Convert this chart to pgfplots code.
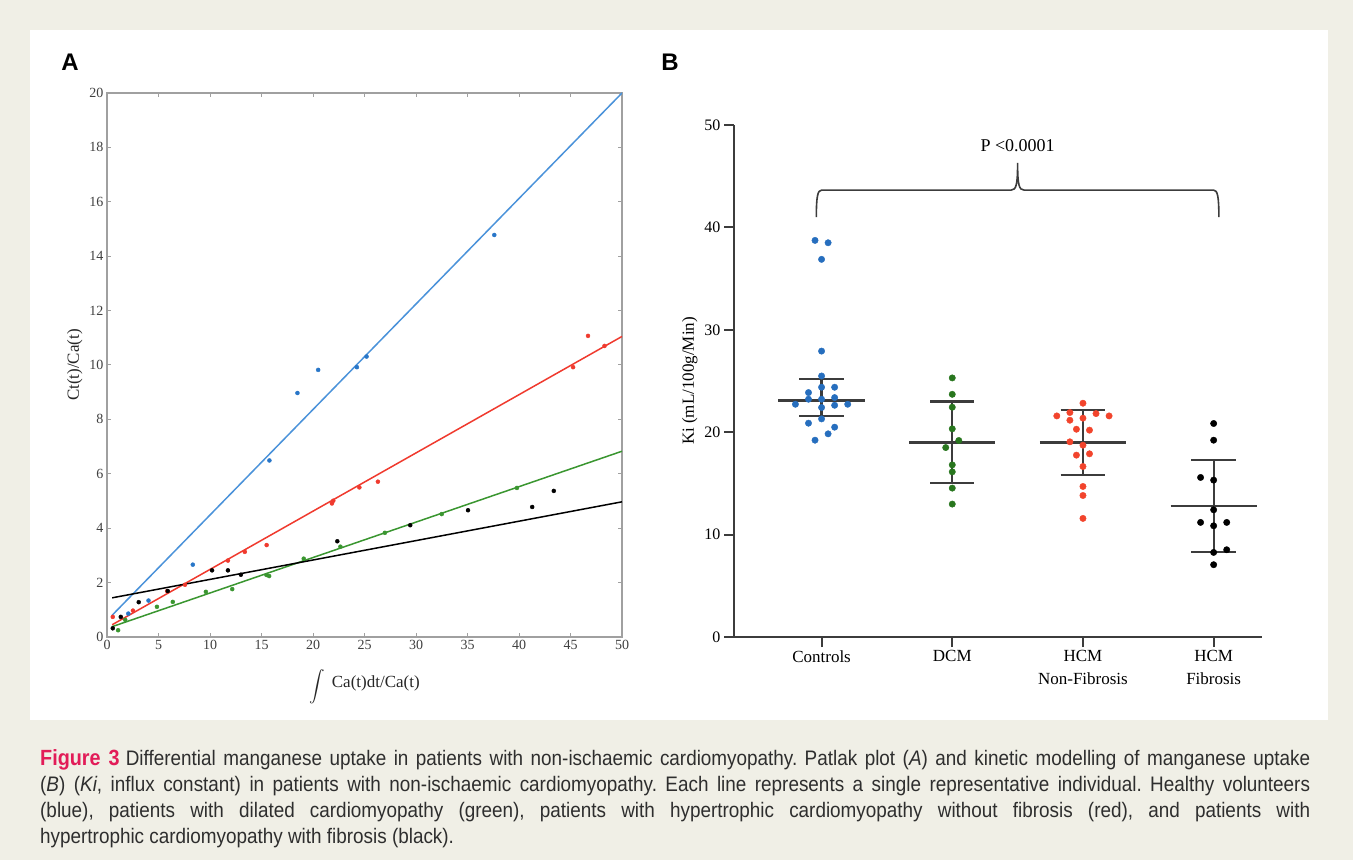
\documentclass[border=0pt]{standalone}
\usepackage{fontspec}
\setmainfont{Liberation Serif}
\newfontfamily\capfont[FakeStretch=0.9]{Liberation Sans}
\newfontfamily\labfont{Liberation Sans}
\usepackage{graphicx}
\usepackage{pgfplots}
\pgfplotsset{compat=1.18}

\definecolor{bgbeige}{RGB}{240,239,230}
\definecolor{figred}{RGB}{226,28,88}
\definecolor{lineblue}{RGB}{74,146,218}
\definecolor{dotblue}{RGB}{40,118,200}
\definecolor{linered}{RGB}{240,58,46}
\definecolor{linegreen}{RGB}{58,150,48}
\definecolor{kblue}{RGB}{38,110,190}
\definecolor{kgreen}{RGB}{40,118,30}
\definecolor{kred}{RGB}{242,68,44}
\definecolor{axgray}{RGB}{160,160,160}
\definecolor{axdark}{RGB}{60,60,60}

% panel A, Patlak plot
\pgfplotstableread{
x y
2.07 0.86
4.03 1.34
8.33 2.66
15.77 6.49
18.49 8.97
20.5 9.82
24.26 9.92
25.2 10.31
37.6 14.78
}\patblue
\pgfplotstableread{
x y
0.56 0.74
2.52 0.97
5.84 1.69
7.57 1.92
11.74 2.81
13.38 3.13
15.5 3.38
21.84 4.91
21.97 5.01
24.5 5.5
26.3 5.71
45.25 9.92
46.7 11.07
48.3 10.7
}\patred
\pgfplotstableread{
x y
1.08 0.25
1.77 0.63
4.85 1.11
6.39 1.29
9.6 1.66
12.16 1.76
15.48 2.28
15.74 2.24
19.1 2.88
22.66 3.32
26.98 3.83
32.5 4.52
39.8 5.48
}\patgreen
\pgfplotstableread{
x y
0.56 0.32
1.34 0.74
3.08 1.28
5.9 1.69
10.2 2.45
11.74 2.45
13.0 2.29
22.36 3.52
29.44 4.11
35.05 4.66
41.28 4.78
43.38 5.37
}\patblack

% panel B, Ki per group (x = group position + jitter)
\pgfplotstableread{
x y
0.95 38.73
1.05 38.5
1 36.88
1 27.92
1 25.49
1 24.39
0.9 23.87
1.1 24.39
0.9 23.22
1 23.22
1.1 23.38
0.8 22.73
1.2 22.73
1 22.41
1.1 22.63
1 21.3
0.9 20.88
1.1 20.49
1.05 19.84
0.95 19.22
}\kicontrols
\pgfplotstableread{
x y
2 25.3
2 23.7
2 22.44
2 20.33
2.05 19.19
1.95 18.5
2 16.81
2 16.13
2 14.54
2 12.98
}\kidcm
\pgfplotstableread{
x y
3 22.83
2.8 21.59
2.9 21.92
3.1 21.82
3.2 21.59
2.9 21.17
3 21.37
2.95 20.29
3.05 20.2
2.9 19.06
3 18.73
2.95 17.76
3.05 17.89
3 16.65
3 14.7
3 13.82
3 11.58
}\kinonfib
\pgfplotstableread{
x y
4 20.85
4 19.22
3.9 15.58
4 15.32
4 12.42
3.9 11.19
4 10.86
4.1 11.19
4 8.26
4.1 8.52
4 7.06
}\kifib

\begin{document}
\begin{tikzpicture}[x=1pt,y=1pt]
\path[use as bounding box, fill=bgbeige] (0,0) rectangle (1353,860);
\fill[white] (30,140) rectangle (1328,830);
\node[font=\labfont\bfseries\fontsize{24}{24}\selectfont] at (70,798) {A};
\node[font=\labfont\bfseries\fontsize{24}{24}\selectfont] at (670,798) {B};

\begin{axis}[
  at={(107pt,223pt)}, anchor=south west,
  scale only axis, width=515pt, height=544pt,
  xmin=0, xmax=50, ymin=0, ymax=20,
  xtick={0,5,...,50}, ytick={0,2,...,20},
  tick align=inside, major tick length=4pt,
  axis line style={draw=axgray, line width=1.3pt},
  tick style={draw=axgray, line width=1pt},
  ticklabel style={font=\fontsize{14}{14}\selectfont, text=black!75},
  /pgf/number format/assume math mode=true,
  xlabel={\raisebox{-0.35em}{\scalebox{1.55}{$\displaystyle\int$}}\, Ca(t)dt/Ca(t)},
  xlabel style={yshift=-13pt},
  ylabel={Ct(t)/Ca(t)},
  label style={font=\fontsize{17}{17}\selectfont, text=black!85},
]
\addplot[lineblue, line width=1.5pt, mark=none] coordinates {(0.5,0.8) (50,20)};
\addplot[linered, line width=1.5pt, mark=none] coordinates {(0.5,0.45) (50,11.05)};
\addplot[linegreen, line width=1.5pt, mark=none] coordinates {(0.5,0.38) (50,6.83)};
\addplot[black, line width=1.5pt, mark=none] coordinates {(0.5,1.44) (50,4.97)};
\addplot[only marks, mark=*, mark size=2pt, dotblue] table {\patblue};
\addplot[only marks, mark=*, mark size=2pt, linered] table {\patred};
\addplot[only marks, mark=*, mark size=2pt, linegreen] table {\patgreen};
\addplot[only marks, mark=*, mark size=2pt, black] table {\patblack};
\end{axis}

\begin{axis}[
  at={(734pt,223pt)}, anchor=south west,
  scale only axis, width=528pt, height=512pt,
  xmin=0.33, xmax=4.37, ymin=0, ymax=50,
  axis x line*=bottom, axis y line*=left,
  xtick={1,2,3,4},
  xticklabels={Controls,DCM,{HCM\\Non-Fibrosis},{HCM\\Fibrosis}},
  ytick={0,10,...,50},
  tick align=outside, major tick length=10pt,
  axis line style={draw=axdark, line width=2pt},
  tick style={draw=axdark, line width=2pt},
  xticklabel style={align=center, font=\fontsize{17}{23}\selectfont},
  yticklabel style={font=\fontsize{16}{16}\selectfont},
  /pgf/number format/assume math mode=true,
  ylabel={Ki (mL/100g/Min)},
  label style={font=\fontsize{17}{17}\selectfont},
  clip=false,
  bar/.style={axdark, line width=2.2pt, mark=none},
]
\addplot[only marks, mark=*, mark size=3.2pt, kblue] table {\kicontrols};
\addplot[only marks, mark=*, mark size=3.2pt, kgreen] table {\kidcm};
\addplot[only marks, mark=*, mark size=3.2pt, kred] table {\kinonfib};
\addplot[only marks, mark=*, mark size=3.2pt, black] table {\kifib};
% mean and spread
\addplot[bar] coordinates {(0.67,23.1) (1.33,23.1)};
\addplot[bar] coordinates {(0.83,25.2) (1.17,25.2)};
\addplot[bar] coordinates {(0.83,21.6) (1.17,21.6)};
\addplot[bar] coordinates {(1,21.6) (1,25.2)};
\addplot[bar] coordinates {(1.67,19.0) (2.33,19.0)};
\addplot[bar] coordinates {(1.83,23.0) (2.17,23.0)};
\addplot[bar] coordinates {(1.83,15.0) (2.17,15.0)};
\addplot[bar] coordinates {(2,15.0) (2,23.0)};
\addplot[bar] coordinates {(2.67,19.0) (3.33,19.0)};
\addplot[bar] coordinates {(2.83,22.2) (3.17,22.2)};
\addplot[bar] coordinates {(2.83,15.8) (3.17,15.8)};
\addplot[bar] coordinates {(3,15.8) (3,22.2)};
\addplot[bar] coordinates {(3.67,12.8) (4.33,12.8)};
\addplot[bar] coordinates {(3.83,17.3) (4.17,17.3)};
\addplot[bar] coordinates {(3.83,8.3) (4.17,8.3)};
\addplot[bar] coordinates {(4,8.3) (4,17.3)};
% bracket
\draw[axdark, line width=1.6pt]
  (axis cs:0.96,41.0) .. controls (axis cs:0.96,43.0) and (axis cs:0.97,43.64) .. (axis cs:1.0,43.64)
  -- (axis cs:2.45,43.64) .. controls (axis cs:2.49,43.64) and (axis cs:2.5,44.2) .. (axis cs:2.5,46.3)
  .. controls (axis cs:2.5,44.2) and (axis cs:2.51,43.64) .. (axis cs:2.55,43.64)
  -- (axis cs:4.0,43.64) .. controls (axis cs:4.03,43.64) and (axis cs:4.04,43.0) .. (axis cs:4.04,41.0);
\node[font=\fontsize{18}{18}\selectfont] at (axis cs:2.5,48.0) {P <0.0001};
\end{axis}

\node[anchor=north west, inner sep=0pt, text width=1270pt, align=justify,
  font=\capfont\fontsize{21}{26}\selectfont, text=black!82] at (40,111)
{\frenchspacing{\color{figred}\bfseries\fontsize{22}{26}\selectfont Figure~3}\hspace{0.3em}Differential manganese uptake in patients with non-ischaemic cardiomyopathy. Patlak plot (\textit{A}) and kinetic modelling of manganese uptake\linebreak
(\textit{B}) (\textit{Ki}, influx constant) in patients with non-ischaemic cardiomyopathy. Each line represents a single representative individual. Healthy volunteers\linebreak
(blue), patients with dilated cardiomyopathy (green), patients with hypertrophic cardiomyopathy without fibrosis (red), and patients with\linebreak
hypertrophic cardiomyopathy with fibrosis (black).};
\end{tikzpicture}
\end{document}
